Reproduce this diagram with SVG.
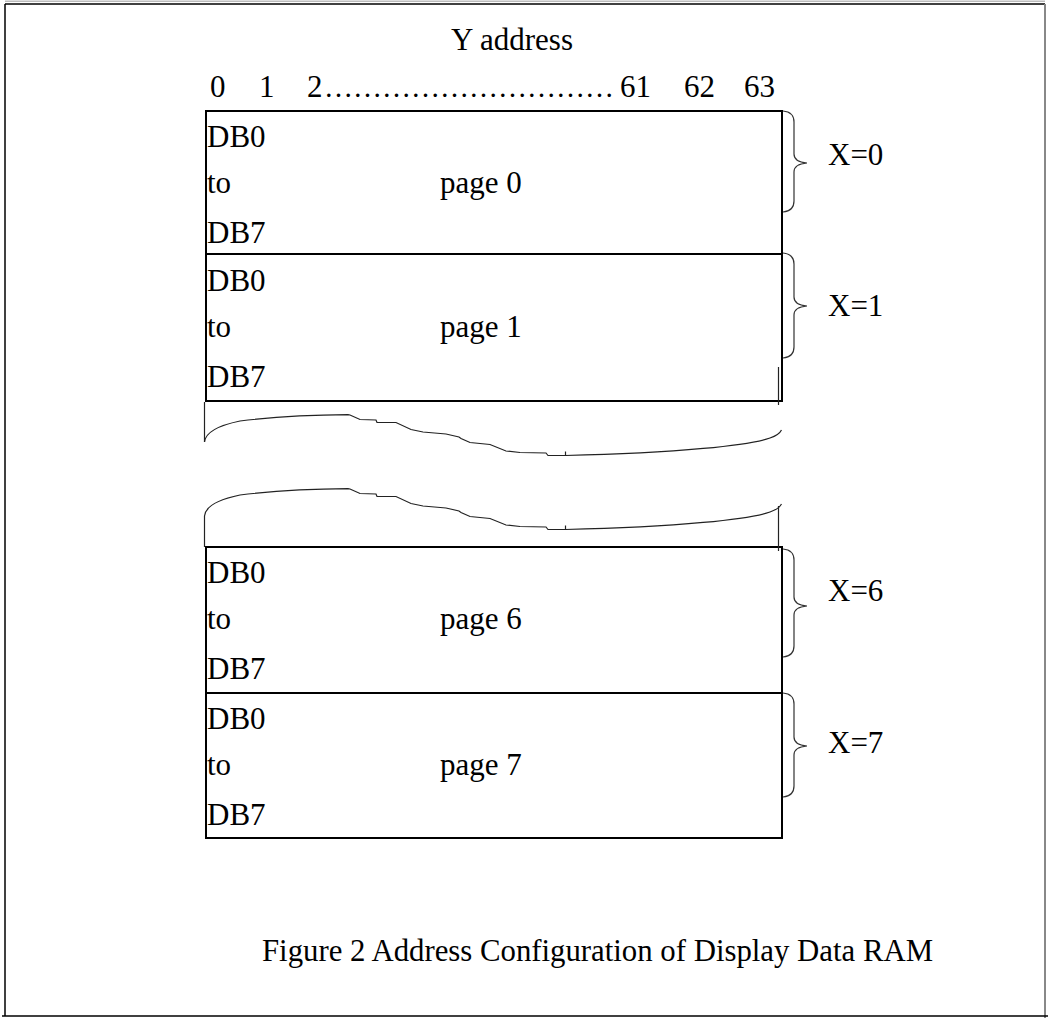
<svg xmlns="http://www.w3.org/2000/svg" width="1048" height="1021" viewBox="0 0 1048 1021">
<style>
text{font-family:"Liberation Serif","Times New Roman",serif;font-size:31px;fill:#000}
.dots{font-size:29px}
.box{fill:none;stroke:#000;stroke-width:2}
.thin{fill:none;stroke:#222;stroke-width:1.2}
.brace{fill:none;stroke:#333;stroke-width:1.2}
</style>
<rect width="1048" height="1021" fill="#fff"/>
<g id="frame">
<line x1="5" y1="1.2" x2="1045" y2="1.2" stroke="#bbb" stroke-width="1.5"/>
<line x1="5" y1="4" x2="1045" y2="4" stroke="#000" stroke-width="1.5"/>
<line x1="5" y1="4" x2="5" y2="1016" stroke="#000" stroke-width="1.5"/>
<line x1="1045" y1="4" x2="1045" y2="1018" stroke="#888" stroke-width="2"/>
<line x1="2" y1="1016" x2="1048" y2="1016" stroke="#000" stroke-width="1.5"/>
</g>
<g id="y-address">
<text x="451" y="50">Y address</text>
<text x="210" y="97">0</text>
<text x="259" y="97">1</text>
<text x="307" y="97">2</text>
<text class="dots" x="324" y="97">&#8230;&#8230;&#8230;&#8230;&#8230;&#8230;&#8230;&#8230;&#8230;&#8230;</text>
<text x="620" y="97">61</text>
<text x="684" y="97">62</text>
<text x="744" y="97">63</text>
</g>
<g id="page0">
<rect class="box" x="206" y="111" width="576" height="143"/>
<text x="207" y="147">DB0</text>
<text x="207" y="193">to</text>
<text x="207" y="243">DB7</text>
<text x="440" y="193">page 0</text>
</g>
<g id="page1">
<rect class="box" x="206" y="254" width="576" height="147"/>
<text x="207" y="291">DB0</text>
<text x="207" y="337">to</text>
<text x="207" y="387">DB7</text>
<text x="440" y="337">page 1</text>
</g>
<g id="page6">
<rect class="box" x="206" y="547" width="576" height="146"/>
<text x="207" y="583">DB0</text>
<text x="207" y="629">to</text>
<text x="207" y="679">DB7</text>
<text x="440" y="629">page 6</text>
</g>
<g id="page7">
<rect class="box" x="206" y="693" width="576" height="145"/>
<text x="207" y="729">DB0</text>
<text x="207" y="775">to</text>
<text x="207" y="825">DB7</text>
<text x="440" y="775">page 7</text>
</g>
<g id="x-labels">
<path class="brace" d="M783,111 Q794,112 794,122 V154 Q794,162 807,163 Q794,164 794,172 V201 Q794,211 783,212"/>
<text x="828" y="165">X=0</text>
<path class="brace" d="M783,253 Q794,254 794,264 V297 Q794,305 807,306 Q794,307 794,315 V347 Q794,357 783,358"/>
<text x="828" y="316">X=1</text>
<path class="brace" d="M783,549 Q794,550 794,560 V597 Q794,605 807,606 Q794,607 794,615 V646 Q794,656 783,657"/>
<text x="828" y="601">X=6</text>
<path class="brace" d="M783,693 Q794,694 794,704 V737 Q794,745 807,746 Q794,747 794,755 V786 Q794,796 783,797"/>
<text x="828" y="753">X=7</text>
</g>
<g id="break">
<g id="break-upper">
<line class="thin" x1="204.5" y1="402" x2="204.5" y2="442"/>
<line class="thin" x1="778.5" y1="367" x2="778.5" y2="405"/>
<path class="thin" d="M204.5,442 Q206,428 240,421 Q290,415 348,414.7 L350,415 L360,419.5 L376,420 L377,422.5 L396,422.5 L411,429.5 L423,432 L446,434 L459,437 L461,438.5 L470,442.5 L490,444.5 L506,451 L520,452.5 L546,453 L548,455.5 L565.5,455.5 C680,453 750,445 770,438 Q779,435 781.5,430"/>
<line class="thin" x1="565.5" y1="451.5" x2="565.5" y2="455.5"/>
</g>
<g id="break-lower" transform="translate(0,74)">
<path class="thin" d="M204.5,442 Q206,428 240,421 Q290,415 348,414.7 L350,415 L360,419.5 L376,420 L377,422.5 L396,422.5 L411,429.5 L423,432 L446,434 L459,437 L461,438.5 L470,442.5 L490,444.5 L506,451 L520,452.5 L546,453 L548,455.5 L565.5,455.5 C680,453 750,445 770,438 Q779,435 781.5,430"/>
<line class="thin" x1="565.5" y1="451.5" x2="565.5" y2="455.5"/>
</g>
<line class="thin" x1="204.5" y1="516" x2="204.5" y2="547"/>
<line class="thin" x1="778.5" y1="506" x2="778.5" y2="551"/>
</g>
<g id="caption">
<text x="262" y="961" textLength="671" lengthAdjust="spacingAndGlyphs">Figure 2 Address Configuration of Display Data RAM</text>
</g>
</svg>
